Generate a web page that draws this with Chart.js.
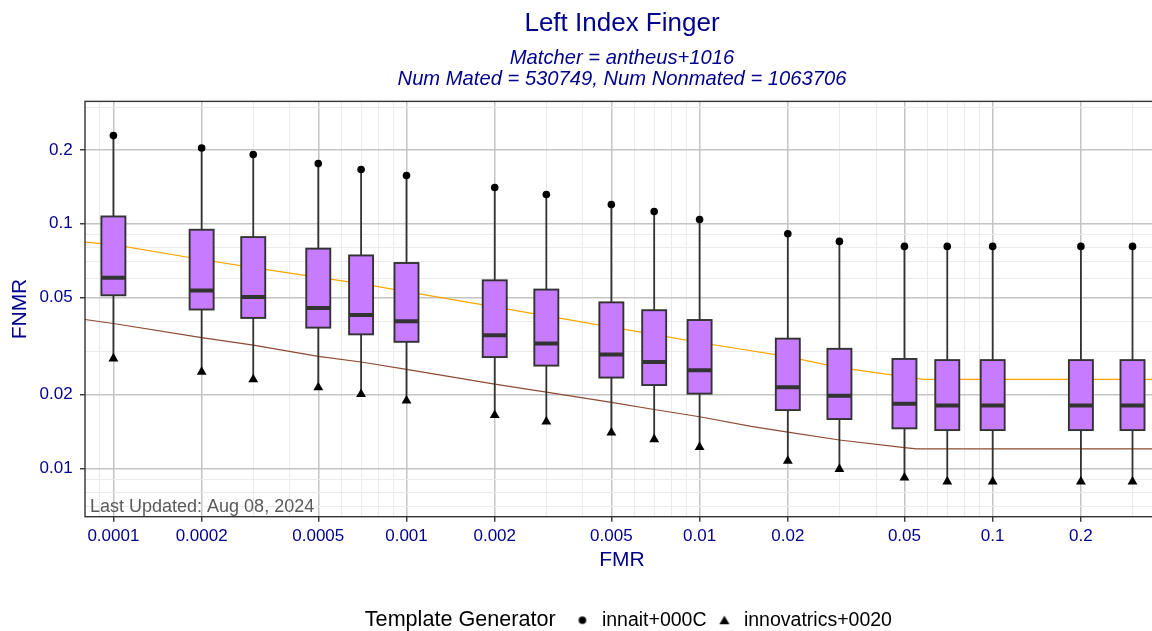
<!DOCTYPE html>
<html><head><meta charset="utf-8">
<script src="https://cdn.jsdelivr.net/npm/chart.js@4.4.1/dist/chart.umd.min.js"></script>
<style>
html,body{margin:0;padding:0;background:#fff;overflow:hidden;width:1152px;height:631px;}
#wrap{position:relative;width:1152px;height:631px;overflow:hidden;background:#fff;}
canvas{display:block;}
</style></head><body>
<div id="wrap"><canvas id="c" width="1244" height="640"></canvas></div>
<script>
// ---- data ----
const fmr = [0.0001, 0.0002, 0.0003, 0.0005, 0.0007, 0.001, 0.002, 0.003, 0.005, 0.007, 0.01, 0.02, 0.03, 0.05, 0.07, 0.1, 0.2, 0.3];
const q1 = [0.0510, 0.0446, 0.0412, 0.0376, 0.0353, 0.0329, 0.0285, 0.0263, 0.0235, 0.0219, 0.0202, 0.0173, 0.0159, 0.01457, 0.01433, 0.01433, 0.01433, 0.01433];
const median = [0.0602, 0.0534, 0.0502, 0.0452, 0.0424, 0.0399, 0.0350, 0.0324, 0.0292, 0.0272, 0.0252, 0.02143, 0.0198, 0.01836, 0.01807, 0.01807, 0.01807, 0.01807];
const q3 = [0.1071, 0.0945, 0.0882, 0.0791, 0.0742, 0.0691, 0.0587, 0.0538, 0.0477, 0.0443, 0.0404, 0.0339, 0.0308, 0.0280, 0.0277, 0.0277, 0.0277, 0.0277];
const innait = [0.2293, 0.204, 0.1919, 0.1762, 0.1666, 0.1574, 0.1406, 0.1317, 0.1199, 0.1123, 0.1041, 0.0910, 0.0847, 0.0808, 0.0808, 0.0808, 0.0808, 0.0808];
const innovatrics = [0.0281, 0.0248, 0.0231, 0.0214, 0.0201, 0.0189, 0.0165, 0.0155, 0.01398, 0.01314, 0.0122, 0.01071, 0.00993, 0.00915, 0.00882, 0.00882, 0.00882, 0.00882];

const orangeFmr = [0.00008, 0.0001, 0.0002, 0.0003, 0.0005, 0.0007, 0.001, 0.002, 0.003, 0.005, 0.007, 0.01, 0.02, 0.03, 0.05, 0.058, 0.37];
const orangeFnmr = [0.0841, 0.0821, 0.0714, 0.0662, 0.0604, 0.0569, 0.0528, 0.0457, 0.0420, 0.0378, 0.0353, 0.0327, 0.0286, 0.0258, 0.0237, 0.0231, 0.0231];
const brownFmr = [0.00008, 0.0001, 0.0002, 0.0003, 0.0005, 0.0007, 0.001, 0.002, 0.003, 0.005, 0.007, 0.01, 0.015, 0.02, 0.03, 0.05, 0.055, 0.37];
const brownFnmr = [0.0406, 0.0391, 0.0342, 0.0319, 0.0287, 0.0272, 0.0254, 0.0221, 0.0205, 0.0186, 0.0174, 0.01625, 0.01485, 0.01405, 0.01305, 0.01214, 0.0120, 0.0120];

const xMajor = [0.0001, 0.0002, 0.0005, 0.001, 0.002, 0.005, 0.01, 0.02, 0.05, 0.1, 0.2];
const xMajorLabels = ['0.0001', '0.0002', '0.0005', '0.001', '0.002', '0.005', '0.01', '0.02', '0.05', '0.1', '0.2'];
const xMinor = [0.00009, 0.0003, 0.0004, 0.0006, 0.0007, 0.0008, 0.0009, 0.003, 0.004, 0.006, 0.007, 0.008, 0.009, 0.03, 0.04, 0.06, 0.07, 0.08, 0.09, 0.3];
const yMajor = [0.01, 0.02, 0.05, 0.1, 0.2];
const yMajorLabels = ['0.01', '0.02', '0.05', '0.1', '0.2'];
const yMinor = [0.007, 0.008, 0.009, 0.03, 0.04, 0.06, 0.07, 0.08, 0.09, 0.3];

const seriesNames = ['innait+000C', 'innovatrics+0020'];
const legendTitle = 'Template Generator';
const titleText = 'Left Index Finger';
const subtitleLines = ['Matcher = antheus+1016', 'Num Mated = 530749, Num Nonmated = 1063706'];
const noteText = 'Last Updated: Aug 08, 2024';

// ---- styling ----
const FONT = "'Liberation Sans', Arial, Helvetica, sans-serif";
const BLUE = '#00008B';
Chart.defaults.font.family = FONT;

function makeTicks(major, labels, minor) {
  const t = major.map((v, i) => ({value: v, major: false, isMaj: true, lbl: labels[i]}))
    .concat(minor.map(v => ({value: v, major: false, isMaj: false, lbl: ''})));
  t.sort((a, b) => a.value - b.value);
  return t;
}

function markerCanvas(kind) {
  const c = document.createElement('canvas');
  c.width = 12; c.height = 12;
  const g = c.getContext('2d');
  g.fillStyle = '#000';
  g.beginPath();
  if (kind === 'circle') { g.arc(6, 6, 3.8, 0, Math.PI * 2); }
  else if (kind === 'triangle') { g.moveTo(6, 1.5); g.lineTo(11, 10); g.lineTo(1, 10); g.closePath(); }
  if (kind !== 'blank') g.fill();
  return c;
}
const circImg = markerCanvas('circle'), triImg = markerCanvas('triangle'), blankImg = markerCanvas('blank');

const boxPlugin = {
  id: 'boxes',
  beforeDatasetsDraw(chart) { chart.$boxDone = false; },
  beforeDatasetDraw(chart, args) {
    const ds = chart.data.datasets[args.index];
    if (!ds.isMarker || chart.$boxDone) return;
    chart.$boxDone = true;
    const {ctx, chartArea} = chart;
    const xs = chart.scales.x, ys = chart.scales.y;
    ctx.save();
    ctx.beginPath(); ctx.rect(chartArea.left, chartArea.top, chartArea.width, chartArea.height); ctx.clip();
    const hw = 12;
    fmr.forEach((f, i) => {
      const x = xs.getPixelForValue(f);
      const yHi = ys.getPixelForValue(innait[i]), yLo = ys.getPixelForValue(innovatrics[i]);
      const y1 = ys.getPixelForValue(q1[i]), y3 = ys.getPixelForValue(q3[i]), ym = ys.getPixelForValue(median[i]);
      ctx.strokeStyle = '#333333';
      ctx.lineWidth = 1.8;
      ctx.beginPath(); ctx.moveTo(x, yHi); ctx.lineTo(x, y3); ctx.moveTo(x, y1); ctx.lineTo(x, yLo); ctx.stroke();
      ctx.fillStyle = '#C77CFF';
      ctx.fillRect(x - hw, y3, 2 * hw, y1 - y3);
      ctx.lineWidth = 1.9;
      ctx.strokeRect(x - hw, y3, 2 * hw, y1 - y3);
      ctx.lineWidth = 4;
      ctx.beginPath(); ctx.moveTo(x - hw, ym); ctx.lineTo(x + hw, ym); ctx.stroke();
    });
    ctx.restore();
  },
  afterDatasetsDraw(chart) {
    const {ctx, chartArea} = chart;
    ctx.save();
    ctx.font = '18px ' + FONT;
    ctx.fillStyle = '#5a5a5a';
    ctx.textAlign = 'left'; ctx.textBaseline = 'middle';
    ctx.fillText(noteText, chartArea.left + 5, chartArea.bottom - 9.5);
    ctx.strokeStyle = '#333333'; ctx.lineWidth = 1.4;
    ctx.strokeRect(chartArea.left, chartArea.top, chartArea.width, chartArea.height);
    ctx.restore();
  },
  afterDraw(chart) {
    const hb = chart.legend && chart.legend.legendHitBoxes;
    if (!hb || hb.length < 2) return;
    const ctx = chart.ctx;
    ctx.save();
    ctx.font = '21.6px ' + FONT;
    ctx.fillStyle = '#000';
    ctx.textAlign = 'right'; ctx.textBaseline = 'middle';
    ctx.fillText(legendTitle, hb[1].left - 17, hb[1].top + hb[1].height / 2);
    ctx.restore();
  }
};

const gridColor = c => (c.tick && c.tick.isMaj) ? '#C4C4C4' : '#EBEBEB';
const gridWidth = c => (c.tick && c.tick.isMaj) ? 1.5 : 1;
const tickColor = c => (c.tick && c.tick.isMaj) ? '#333333' : 'rgba(0,0,0,0)';

new Chart(document.getElementById('c'), {
  type: 'scatter',
  data: {
    datasets: [
      {label: 'orange', data: orangeFmr.map((x, i) => ({x, y: orangeFnmr[i]})), showLine: true, pointRadius: 0, borderColor: '#FFA500', borderWidth: 1.2, order: 3},
      {label: 'brown', data: brownFmr.map((x, i) => ({x, y: brownFnmr[i]})), showLine: true, pointRadius: 0, borderColor: '#8C4B32', borderWidth: 1.2, order: 3},
      {label: seriesNames[0], isMarker: true, data: fmr.map((x, i) => ({x, y: innait[i]})), pointStyle: 'circle', pointRadius: 3.8, backgroundColor: '#000', borderWidth: 0, order: 1},
      {label: seriesNames[1], isMarker: true, data: fmr.map((x, i) => ({x, y: innovatrics[i]})), pointStyle: 'triangle', pointRadius: 5.7, backgroundColor: '#000', borderWidth: 0, order: 1}
    ]
  },
  plugins: [boxPlugin],
  options: {
    responsive: false,
    devicePixelRatio: 1,
    animation: false,
    events: [],
    layout: {padding: {left: 0, right: 0, top: 0, bottom: 0}},
    scales: {
      x: {
        type: 'logarithmic', position: 'bottom',
        min: 0.00008, max: 0.3694,
        afterBuildTicks: s => { s.ticks = makeTicks(xMajor, xMajorLabels, xMinor); },
        afterFit: s => { s.height = 85.65; },
        ticks: {autoSkip: false, maxRotation: 0, minRotation: 0, padding: 4.1, color: BLUE, font: {size: 17},
          callback: (v, i, t) => t[i].lbl},
        grid: {color: gridColor, lineWidth: gridWidth, tickColor: tickColor, tickLength: 5, tickWidth: 1.4},
        border: {display: false},
        title: {display: true, text: 'FMR', color: BLUE, font: {size: 21}, padding: {top: 0, bottom: 29.75}}
      },
      y: {
        type: 'logarithmic', position: 'left',
        min: 0.00634, max: 0.3165,
        afterBuildTicks: s => { s.ticks = makeTicks(yMajor, yMajorLabels, yMinor); },
        afterFit: s => { s.width = 85; },
        ticks: {autoSkip: false, padding: 7.3, color: BLUE, font: {size: 17},
          callback: (v, i, t) => t[i].lbl},
        grid: {color: gridColor, lineWidth: gridWidth, tickColor: tickColor, tickLength: 5, tickWidth: 1.4},
        border: {display: false},
        title: {display: true, text: 'FNMR', color: BLUE, font: {size: 21}, padding: {top: 7.4, bottom: 0}}
      },
      y2: {
        type: 'linear', position: 'right', min: 0, max: 1, display: true,
        afterFit: s => { s.width = 85; },
        ticks: {display: false},
        grid: {display: false, drawTicks: false},
        border: {display: false}
      }
    },
    plugins: {
      title: {display: true, text: titleText, color: BLUE, font: {size: 26, weight: 'normal'}, padding: {top: 8, bottom: 0}},
      subtitle: {display: true, text: subtitleLines, color: BLUE, font: {size: 20.2, style: 'italic', lineHeight: 1.075}, padding: {top: 7.9, bottom: 10.85}},
      tooltip: {enabled: false},
      legend: {
        display: true, position: 'bottom', align: 'center',
        onClick: null,
        labels: {
          usePointStyle: true, boxHeight: 8, padding: 8.15, color: '#000',
          font: {size: 19.5},
          generateLabels: () => [
            {text: legendTitle + '  ', pointStyle: blankImg, fillStyle: 'rgba(0,0,0,0)', strokeStyle: 'rgba(0,0,0,0)', lineWidth: 0, fontColor: 'rgba(0,0,0,0)', hidden: false},
            {text: seriesNames[0], pointStyle: circImg, fillStyle: '#000', strokeStyle: '#000', lineWidth: 0, fontColor: '#000', hidden: false, datasetIndex: 2},
            {text: seriesNames[1], pointStyle: triImg, fillStyle: '#000', strokeStyle: '#000', lineWidth: 0, fontColor: '#000', hidden: false, datasetIndex: 3}
          ]
        }
      }
    }
  }
});
</script>
</body></html>
